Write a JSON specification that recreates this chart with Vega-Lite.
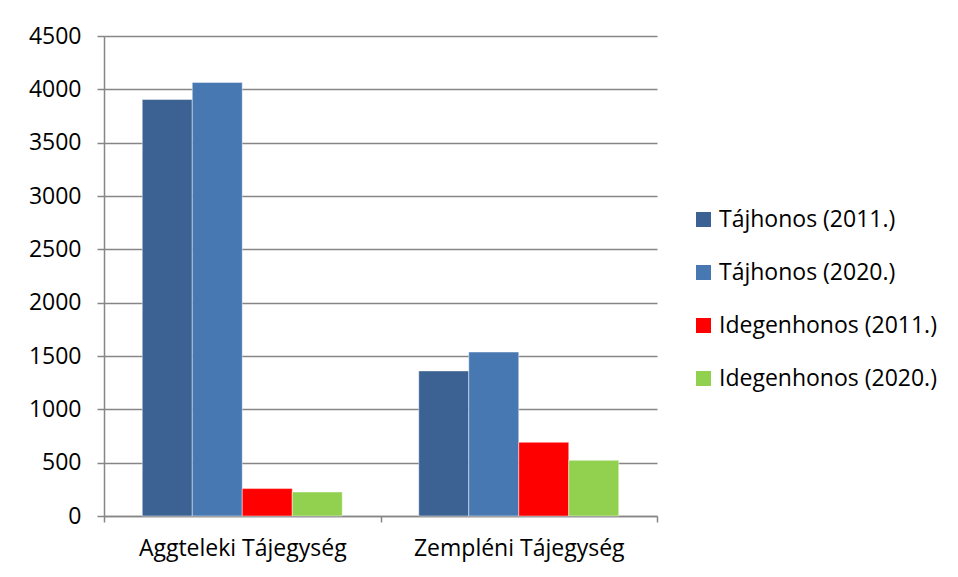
{
  "$schema": "https://vega.github.io/schema/vega-lite/v6.json",
  "width": 553,
  "height": 480,
  "autosize": {"type": "none"},
  "padding": {"left": 104, "top": 36, "right": 301, "bottom": 61},
  "background": "white",
  "config": {
    "view": {"stroke": null},
    "font": "Open Sans",
    "axis": {"labelFont": "Open Sans", "labelColor": "#000000"}
  },
  "data": {
    "values": [
      {"region": "Aggteleki Tájegység", "series": "Tájhonos (2011.)", "value": 3905},
      {"region": "Aggteleki Tájegység", "series": "Tájhonos (2020.)", "value": 4065},
      {"region": "Aggteleki Tájegység", "series": "Idegenhonos (2011.)", "value": 257},
      {"region": "Aggteleki Tájegység", "series": "Idegenhonos (2020.)", "value": 225},
      {"region": "Zempléni Tájegység", "series": "Tájhonos (2011.)", "value": 1360},
      {"region": "Zempléni Tájegység", "series": "Tájhonos (2020.)", "value": 1537},
      {"region": "Zempléni Tájegység", "series": "Idegenhonos (2011.)", "value": 691},
      {"region": "Zempléni Tájegység", "series": "Idegenhonos (2020.)", "value": 522}
    ]
  },
  "mark": {"type": "bar", "stroke": "#ffffff", "strokeOpacity": 0.45, "strokeWidth": 1},
  "encoding": {
    "x": {
      "field": "region",
      "type": "nominal",
      "sort": null,
      "title": null,
      "scale": {"paddingInner": 0, "paddingOuter": 0},
      "axis": {
        "labelAngle": 0,
        "labelFontSize": 23,
        "labelPadding": 15,
        "labelLimit": 300,
        "tickBand": "extent",
        "tickSize": 6,
        "tickColor": "#868686",
        "tickWidth": 1.5,
        "domainColor": "#868686",
        "domainWidth": 1.5,
        "grid": false
      }
    },
    "xOffset": {
      "field": "series",
      "type": "nominal",
      "sort": ["Tájhonos (2011.)", "Tájhonos (2020.)", "Idegenhonos (2011.)", "Idegenhonos (2020.)"],
      "scale": {"paddingInner": 0, "paddingOuter": 0.765}
    },
    "y": {
      "field": "value",
      "type": "quantitative",
      "title": null,
      "scale": {"domain": [0, 4500], "nice": false},
      "axis": {
        "values": [0, 500, 1000, 1500, 2000, 2500, 3000, 3500, 4000, 4500],
        "format": "d",
        "labelFontSize": 23,
        "labelPadding": 16,
        "tickSize": 7,
        "tickColor": "#868686",
        "tickWidth": 1.5,
        "domainColor": "#868686",
        "domainWidth": 1.5,
        "gridColor": "#868686",
        "gridWidth": 1.5,
        "gridOpacity": 1
      }
    },
    "color": {
      "field": "series",
      "type": "nominal",
      "sort": ["Tájhonos (2011.)", "Tájhonos (2020.)", "Idegenhonos (2011.)", "Idegenhonos (2020.)"],
      "scale": {
        "domain": ["Tájhonos (2011.)", "Tájhonos (2020.)", "Idegenhonos (2011.)", "Idegenhonos (2020.)"],
        "range": ["#3B6292", "#4878B2", "#FF0000", "#92D050"]
      },
      "legend": {
        "title": null,
        "orient": "none",
        "legendX": 588,
        "legendY": 172,
        "symbolType": "square",
        "symbolSize": 225,
        "symbolStrokeWidth": 0,
        "labelFontSize": 23,
        "labelColor": "#000000",
        "labelFont": "Open Sans",
        "rowPadding": 29,
        "labelOffset": 4,
        "labelLimit": 300
      }
    }
  }
}
